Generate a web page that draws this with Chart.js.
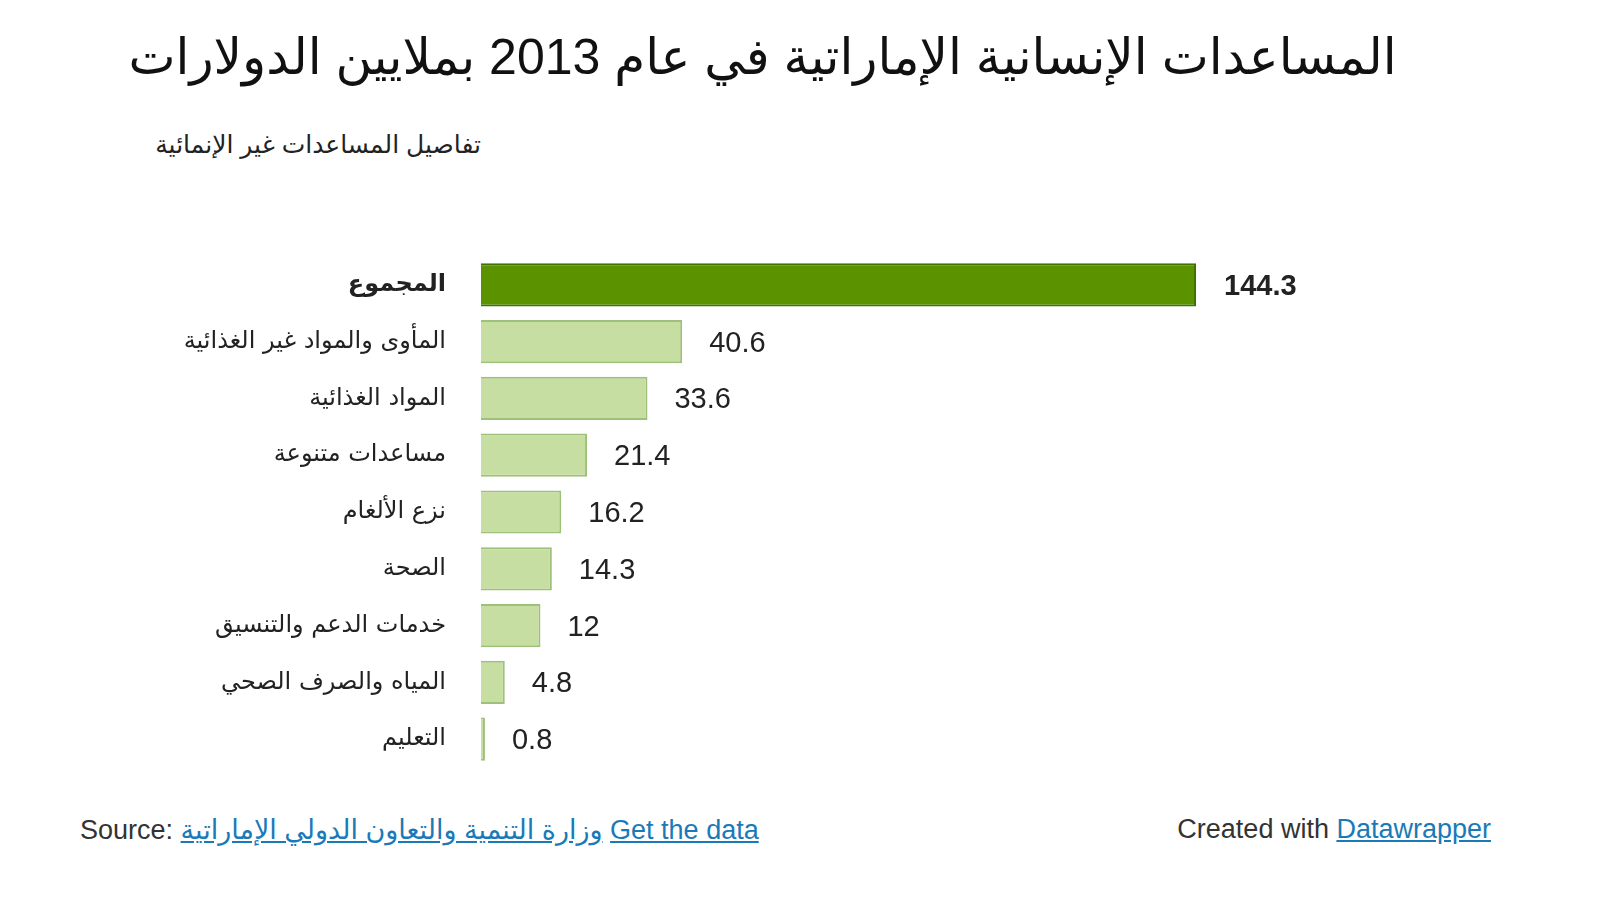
<!DOCTYPE html>
<html><head><meta charset="utf-8">
<script src="https://cdn.jsdelivr.net/npm/chart.js@4"></script>
<style>
body{margin:0;background:#fff;font-family:"Liberation Sans","DejaVu Sans",Arial,sans-serif;width:1601px;height:901px;position:relative;overflow:hidden}
#t{position:absolute;top:28px;left:0;width:1525px;text-align:center;font-size:50px;color:#111;direction:rtl}
#s{position:absolute;top:130px;left:0;width:481px;text-align:right;font-size:25px;color:#222;direction:rtl}
#c{position:absolute;left:0;top:215px}
#f1{position:absolute;left:80px;top:814px;font-size:27px;color:#333}
#f2{position:absolute;right:110px;top:814px;font-size:27px;color:#333}
a{color:#1a7ab8;text-decoration:underline}
</style></head><body>
<div id="t">المساعدات الإنسانية الإماراتية في عام 2013 بملايين الدولارات</div>
<div id="s">تفاصيل المساعدات غير الإنمائية</div>
<canvas id="c" width="1601" height="594" style="width:1601px;height:594px"></canvas>
<div id="f1">Source: <a>وزارة التنمية والتعاون الدولي الإماراتية</a> <a>Get the data</a></div>
<div id="f2">Created with <a>Datawrapper</a></div>
<script>
const categories=["المجموع","المأوى والمواد غير الغذائية","المواد الغذائية","مساعدات متنوعة","نزع الألغام","الصحة","خدمات الدعم والتنسيق","المياه والصرف الصحي","التعليم"];
const values=[144.3,40.6,33.6,21.4,16.2,14.3,12,4.8,0.8];
const bg=values.map((v,i)=>i===0?"#5b9300":"#c6dea1");
const bd=values.map((v,i)=>i===0?"#3f7300":"#9fc07a");
const labelsPlugin={id:"vl",afterDatasetsDraw(ch){const ctx=ch.ctx;const m=ch.getDatasetMeta(0);ctx.save();ctx.textBaseline="middle";ctx.fillStyle="#222";
m.data.forEach((b,i)=>{ctx.font=(i===0?"bold ":"")+"29px 'Liberation Sans',Arial";ctx.fillText(String(values[i]),b.x+(i===0?28:27),b.y+2);});ctx.restore();}};
new Chart(document.getElementById("c"),{type:"bar",data:{labels:categories,datasets:[{data:values,backgroundColor:bg,borderColor:bd,borderWidth:2,barPercentage:0.76,categoryPercentage:1}]},
options:{indexAxis:"y",responsive:false,devicePixelRatio:1,animation:false,layout:{padding:{left:0,right:405,top:0,bottom:0}},
plugins:{legend:{display:false},tooltip:{enabled:false}},
scales:{x:{min:0,max:144.3,display:false},y:{grid:{display:false},border:{display:false},afterFit(s){s.width=481;},
ticks:{padding:27,color:"#222",font:(c)=>({family:"'DejaVu Sans','Liberation Sans'",size:24,weight:c.index===0?"bold":"normal"})}}}},
plugins:[labelsPlugin]});
</script></body></html>
